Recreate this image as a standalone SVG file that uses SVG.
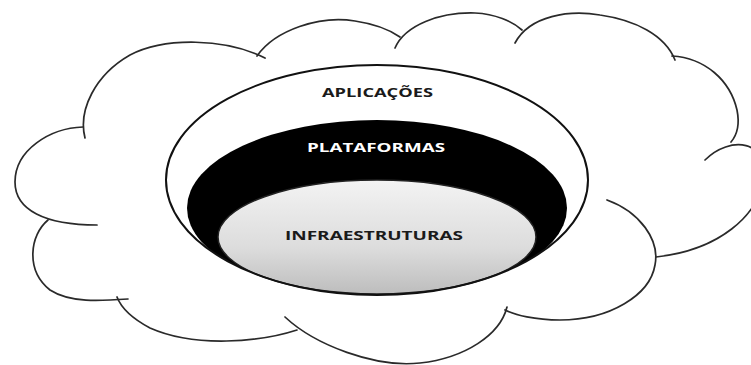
<svg xmlns="http://www.w3.org/2000/svg" width="751" height="365" viewBox="0 0 751 365">
<style>
.cloud{fill:none;stroke:#2a2a2a;stroke-width:1.7;stroke-linecap:round}
.lbl{font-family:"Open Sans","Liberation Sans",sans-serif;font-weight:bold;font-size:12.5px;text-anchor:middle}
</style>
<defs>
<linearGradient id="g" x1="0" y1="0" x2="0" y2="1">
<stop offset="0" stop-color="#f3f3f3"/>
<stop offset="0.6" stop-color="#dcdcdc"/>
<stop offset="1" stop-color="#bdbdbd"/>
</linearGradient>
<clipPath id="oc"><ellipse cx="377" cy="180" rx="211" ry="115"/></clipPath>
</defs>
<g id="cloud">
<path class="cloud" d="M85,138 C78,110 95,75 130,55 C165,37 225,38 265,58"/>
<path class="cloud" d="M257,56 C275,30 320,15 355,21 C375,24 390,30 400,37"/>
<path class="cloud" d="M395,48 C405,25 440,12 475,13 C495,14 512,21 522,30"/>
<path class="cloud" d="M515,43 C530,15 570,10 600,15 C635,20 665,35 675,60"/>
<path class="cloud" d="M672,56 C705,58 730,80 737,110 C740,125 737,135 731,142"/>
<path class="cloud" d="M705,160 C730,135 770,140 763,180 C758,215 720,250 656,257"/>
<path class="cloud" d="M607,200 C640,212 660,240 655,265 C650,295 610,320 560,320 C535,320 515,315 505,310"/>
<path class="cloud" d="M507,307 C500,335 465,358 420,363 C375,368 315,345 285,317"/>
<path class="cloud" d="M297,330 C260,342 195,348 150,328 C135,320 122,310 117,297"/>
<path class="cloud" d="M48,220 C30,235 25,270 50,290 C70,303 100,301 128,299"/>
<path class="cloud" d="M83,127 C50,128 15,150 15,182 C15,210 45,225 97,225"/>
</g>
<g id="aplicacoes">
<ellipse cx="377" cy="180" rx="211" ry="115" fill="#fff"/>
</g>
<g id="plataformas" clip-path="url(#oc)">
<ellipse cx="377" cy="208" rx="190" ry="88" fill="#000"/>
</g>
<g id="infraestruturas">
<ellipse cx="377" cy="237" rx="159" ry="57" fill="url(#g)" stroke="#222" stroke-width="1.5"/>
</g>
<ellipse cx="377" cy="180" rx="211" ry="115" fill="none" stroke="#111" stroke-width="2"/>
<g id="labels">
<text class="lbl" x="377.5" y="97" fill="#1a1a1a" textLength="111" lengthAdjust="spacingAndGlyphs">APLICAÇÕES</text>
<text class="lbl" x="376" y="152" fill="#fff" textLength="138" lengthAdjust="spacingAndGlyphs">PLATAFORMAS</text>
<text class="lbl" x="374" y="240" fill="#1a1a1a" textLength="178" lengthAdjust="spacingAndGlyphs">INFRAESTRUTURAS</text>
</g>
</svg>
